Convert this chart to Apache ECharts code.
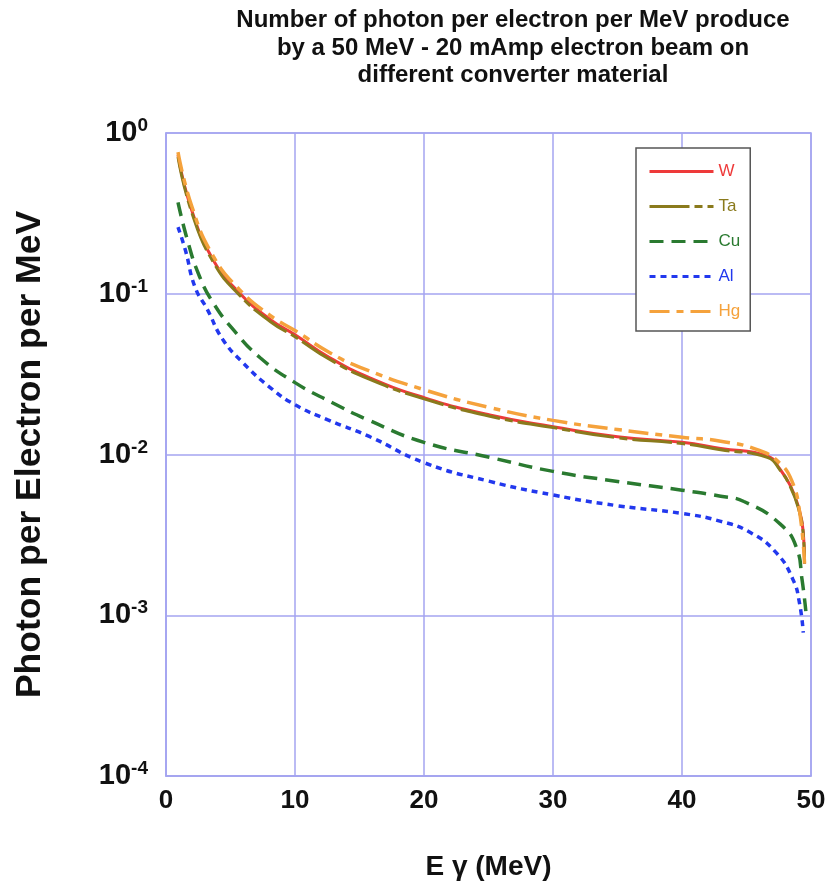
<!DOCTYPE html>
<html><head><meta charset="utf-8">
<script src="https://cdn.jsdelivr.net/npm/echarts@6/dist/echarts.min.js"></script>
<style>html,body{margin:0;padding:0;background:#fff}#c{width:834px;height:889px}</style>
</head><body><div id="c"></div>
<script>
const titleLines = ['Number of photon per electron per MeV produce','by a 50 MeV - 20 mAmp electron beam on','different converter material'];
const xTicks = [0,10,20,30,40,50];
const seriesNames = ['W','Ta','Cu','Al','Hg'];

const wE = [0.93,2.0,3.65,5.7,8.1,10,12.7,15.8,20,25.1,30,35,40,43,46.6,47.6,48.4,49.0,49.4,49.5];
const wV = [0.73,0.33,0.163,0.101,0.069,0.0556,0.040,0.030,0.0226,0.0176,0.0149,0.0129,0.0119,0.0109,0.0098,0.0081,0.0064,0.0048,0.0033,0.0021];
const taE = [0.93,2.0,3.65,5.7,8.1,10,12.7,15.8,20,25.1,30,35,40,43,46.6,47.6,48.4,49.0,49.4,49.5];
const taV = [0.71,0.32,0.158,0.098,0.067,0.054,0.039,0.0293,0.0222,0.0173,0.0147,0.0127,0.0117,0.0107,0.0096,0.0080,0.0063,0.0047,0.0032,0.0021];
const cuE = [0.93,1.7,2.6,3.65,5.2,7.3,10,12.9,15.6,20,25.1,30,35,40,43,44.8,47.6,48.9,49.3,49.6];
const cuV = [0.37,0.21,0.128,0.088,0.060,0.040,0.028,0.021,0.0165,0.0119,0.0096,0.00785,0.0068,0.0060,0.0055,0.0051,0.0037,0.0026,0.00168,0.00106];
const alE = [0.93,1.5,2.25,3.2,4.4,6.0,8.1,10,12.5,15.8,20,25.1,30,35,40,43,45.3,47.3,48.6,49.1,49.4];
const alV = [0.26,0.187,0.11,0.080,0.052,0.037,0.026,0.0204,0.0165,0.0129,0.0089,0.0068,0.0056,0.0048,0.0043,0.00384,0.00327,0.00245,0.00167,0.0012,0.00078];
const hgE = [0.93,2.0,3.65,5.7,8.1,10,12.7,15,20,25.1,30,35,40,43,46.0,47.6,48.5,49.1,49.5];
const hgV = [0.76,0.35,0.172,0.106,0.073,0.059,0.043,0.035,0.0253,0.0196,0.0163,0.0143,0.0128,0.0121,0.0106,0.0088,0.0069,0.0045,0.0021];

const colors = {W:'#ee3a3a',Ta:'#8a7a1c',Cu:'#2a7a30',Al:'#2238ee',Hg:'#f5a23c'};
const dashes = {W:'solid',Ta:[40,5,8,5],Cu:[14,8],Al:[6,5],Hg:[20,7,7,7]};
const widths = {W:3,Ta:3,Cu:3.5,Al:3.5,Hg:3.5};
const dataMap = {W:[wE,wV],Ta:[taE,taV],Cu:[cuE,cuV],Al:[alE,alV],Hg:[hgE,hgV]};

const font = 'Liberation Sans, Arial, sans-serif';
const gridColor = '#a4a4f0';
const chart = echarts.init(document.getElementById('c'));
chart.setOption({
  animation:false,
  textStyle:{fontFamily:font},
  title:{text:titleLines.join('\n'),left:508,textAlign:'center',top:2,
    textStyle:{fontSize:24,fontWeight:'bold',color:'#111',lineHeight:27.5,fontFamily:font}},
  grid:{left:166,right:23,top:133,bottom:113,show:true,borderColor:gridColor,borderWidth:1.5},
  legend:{orient:'vertical',left:636,top:148,width:119,height:180,
    padding:[15,10,11,12],itemGap:18,itemWidth:64,itemHeight:16,
    borderColor:'#555',borderWidth:1.5,backgroundColor:'#fff',
    itemStyle:{opacity:0},lineStyle:{width:3},
    data:seriesNames.map(n=>({name:n,textStyle:{color:colors[n],fontSize:17,fontFamily:font}}))},
  xAxis:{type:'value',min:0,max:50,interval:10,
    name:'E \u03b3 (MeV)',nameLocation:'middle',nameGap:77,
    nameTextStyle:{fontSize:28,fontWeight:'bold',color:'#111'},
    axisLine:{lineStyle:{color:gridColor,width:1.5}},axisTick:{show:false},
    splitLine:{lineStyle:{color:gridColor,width:1.5}},
    axisLabel:{fontSize:26,fontWeight:'bold',color:'#111',margin:12,
      formatter:v=>xTicks.includes(v)?String(v):''}},
  yAxis:{type:'log',logBase:10,min:0.0001,max:1,
    name:'Photon per Electron per MeV',nameLocation:'middle',nameGap:118,
    nameTextStyle:{fontSize:35.5,fontWeight:'bold',color:'#111'},
    axisLine:{lineStyle:{color:gridColor,width:1.5}},axisTick:{show:false},
    splitLine:{lineStyle:{color:gridColor,width:1.5}},
    axisLabel:{margin:18,formatter:v=>'{b|10}{s|'+Math.round(Math.log10(v))+'}',
      rich:{b:{fontSize:29,fontWeight:'bold',color:'#111',fontFamily:font},
            s:{fontSize:19,fontWeight:'bold',color:'#111',fontFamily:font,verticalAlign:'top',padding:[0,0,14,0]}}}},
  series:seriesNames.map(n=>({name:n,type:'line',smooth:0.5,symbol:'none',showSymbol:false,
    z: n==='Hg'?5:(n==='Ta'?4:3),
    lineStyle:{color:colors[n],width:widths[n],type:dashes[n]},itemStyle:{color:colors[n]},
    data:dataMap[n][0].map((x,i)=>[x,dataMap[n][1][i]])}))
});
</script></body></html>
